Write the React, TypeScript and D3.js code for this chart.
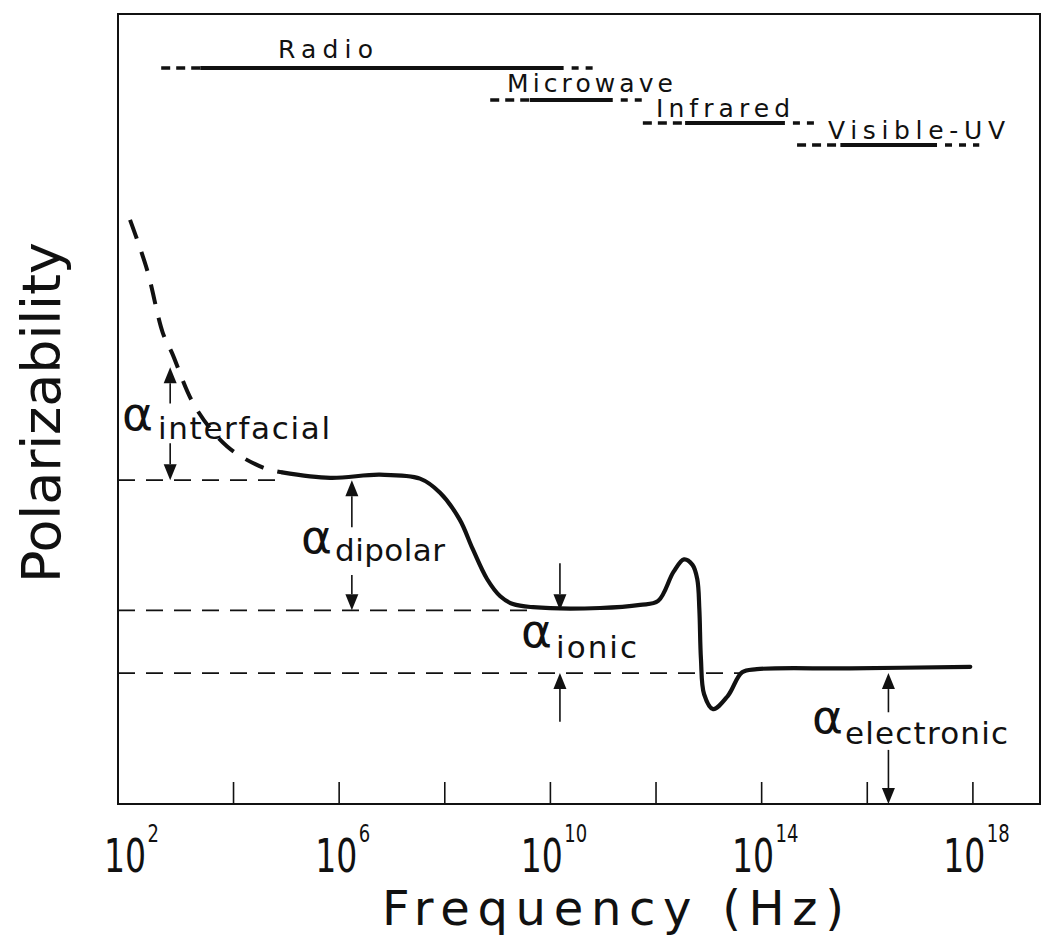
import React, { useRef, useEffect } from 'react'
import * as d3 from 'd3'

// frequency as log10(Hz), polarizability in arbitrary units
const tailExp = [2.05, 2.37, 2.67, 2.84, 3.28, 3.89, 4.57, 4.93]
const tailAlpha = [7.45, 6.82, 6.01, 5.76, 5.07, 4.56, 4.29, 4.23]

const curveExp = [4.93, 5.84, 6.78, 7.54, 7.92, 8.29, 8.54, 8.81, 9.06, 9.30, 9.68, 10.95, 11.71, 12.05, 12.34, 12.54, 12.70, 12.79, 12.83, 12.86, 12.92, 13.09, 13.37, 13.64, 13.92, 15.68, 17.96]
const curveAlpha = [4.23, 4.16, 4.20, 4.15, 3.97, 3.63, 3.25, 2.87, 2.65, 2.55, 2.51, 2.50, 2.54, 2.59, 2.96, 3.12, 3.05, 2.87, 2.48, 1.85, 1.40, 1.21, 1.38, 1.68, 1.72, 1.73, 1.75]

// reference levels (dashed horizontals)
const levelAlpha = [4.13, 2.47, 1.67]
const levelEndExp = [4.95, 9.7, 13.62]

// annotation arrows
const arrowExp = [2.81, 2.81, 6.25, 6.25, 10.19, 10.19, 16.41, 16.41]
const arrowFrom = [5.11, 4.6, 3.53, 2.92, 3.07, 1.05, 1.17, 0.69]
const arrowTo = [5.57, 4.13, 4.13, 2.47, 2.47, 1.67, 1.67, 0]

const labelNames = ['interfacial', 'dipolar', 'ionic', 'electronic']

// spectral bands
const bandNames = ['Radio', 'Microwave', 'Infrared', 'Visible-UV']
const bandStart = [2.64, 8.87, 11.76, 14.68]
const bandSolidStart = [3.38, 9.62, 12.56, 15.5]
const bandSolidEnd = [10.26, 11.19, 14.45, 17.33]
const bandEnd = [10.89, 11.84, 15.1, 18.13]

const tickExp = [4, 6, 8, 10, 12, 14, 16, 18]
const labelExp = [2, 6, 10, 14, 18]

const FONT = '"DejaVu Sans", sans-serif'

export default function App() {
    const ref = useRef<SVGSVGElement>(null)
    const width = 1051
    const height = 940

    useEffect(() => {
        const svg = d3.select(ref.current)
        svg.selectAll('*').remove()

        const left = 118, right = 1040, top = 14, bottom = 804

        const x = d3.scaleLog()
            .domain([Math.pow(10, 1.822), Math.pow(10, 19.28)])
            .range([left, right])
        const xe = (e: number) => x(Math.pow(10, e))
        const y = d3.scaleLinear().domain([0, 10]).range([bottom, 20])

        svg.append('rect').attr('width', width).attr('height', height).attr('fill', '#fff')

        // frame
        svg.append('rect')
            .attr('x', left).attr('y', top)
            .attr('width', right - left).attr('height', bottom - top)
            .attr('fill', 'none').attr('stroke', '#111').attr('stroke-width', 2)

        // ticks pointing inward
        const xAxis = d3.axisBottom(x)
            .tickValues(tickExp.map(e => Math.pow(10, e)))
            .tickSize(-22)
            .tickFormat(() => '')
        const xAxisG = svg.append('g').attr('transform', `translate(0,${bottom})`).call(xAxis)
        xAxisG.select('.domain').remove()
        xAxisG.selectAll('line').attr('stroke', '#111').attr('stroke-width', 1.6)

        // tick labels 10^n, narrowed with a horizontal scale
        labelExp.forEach(e => {
            const tx = xe(e)
            const t = svg.append('g')
                .attr('transform', `translate(${tx + 4},872) scale(0.72,1)`)
                .append('text')
                .attr('text-anchor', 'middle')
                .attr('font-family', FONT).attr('font-size', 46)
                .attr('fill', '#111')
            t.append('tspan').text('10')
            t.append('tspan').attr('dx', 2).attr('dy', -30).attr('font-size', 25).text(String(e))
        })

        // axis titles
        svg.append('text')
            .attr('x', 382).attr('y', 925)
            .attr('font-family', FONT).attr('font-size', 48)
            .attr('textLength', 462)
            .attr('fill', '#111')
            .text('Frequency (Hz)')
        svg.append('text')
            .attr('transform', 'translate(60,583) rotate(-90)')
            .attr('font-family', FONT).attr('font-size', 54)
            .attr('textLength', 341)
            .attr('fill', '#111')
            .text('Polarizability')

        // reference levels
        levelAlpha.forEach((a, i) => {
            svg.append('line')
                .attr('x1', left).attr('x2', xe(levelEndExp[i]))
                .attr('y1', y(a)).attr('y2', y(a))
                .attr('stroke', '#111').attr('stroke-width', 1.8)
                .attr('stroke-dasharray', '17 11')
        })

        const line = d3.line<[number, number]>()
            .x(d => xe(d[0]))
            .y(d => y(d[1]))
            .curve(d3.curveCatmullRom.alpha(0.5))

        svg.append('path')
            .datum(d3.zip(tailExp, tailAlpha) as [number, number][])
            .attr('d', line)
            .attr('fill', 'none').attr('stroke', '#111').attr('stroke-width', 4)
            .attr('stroke-dasharray', '20 14')

        svg.append('path')
            .datum(d3.zip(curveExp, curveAlpha) as [number, number][])
            .attr('d', line)
            .attr('fill', 'none').attr('stroke', '#111').attr('stroke-width', 4.2)
            .attr('stroke-linejoin', 'round').attr('stroke-linecap', 'round')

        // arrows
        arrowExp.forEach((e, i) => {
            const ax = xe(e)
            const y1 = y(arrowFrom[i])
            const y2 = y(arrowTo[i])
            const dir = y2 > y1 ? 1 : -1
            const head = 16
            svg.append('line')
                .attr('x1', ax).attr('x2', ax)
                .attr('y1', y1).attr('y2', y2 - dir * head)
                .attr('stroke', '#111').attr('stroke-width', 1.6)
            svg.append('path')
                .attr('d', `M${ax},${y2} L${ax - 6.5},${y2 - dir * head} L${ax + 6.5},${y2 - dir * head} Z`)
                .attr('fill', '#111')
        })

        // alpha labels: [alpha x, alpha baseline, sub x, sub baseline, sub width]
        const labelLayout = [
            [122, 430, 158, 439, 172],
            [301, 553, 335, 561, 110],
            [521, 647, 556, 658, 81],
            [812, 733, 845, 744, 163],
        ]
        labelNames.forEach((name, i) => {
            const [axp, ayp, sx, sy, sw] = labelLayout[i]
            svg.append('text')
                .attr('x', axp).attr('y', ayp)
                .attr('font-family', FONT).attr('font-size', 46)
                .attr('textLength', 31).attr('lengthAdjust', 'spacingAndGlyphs')
                .attr('fill', '#111')
                .text('α')
            svg.append('text')
                .attr('x', sx).attr('y', sy)
                .attr('font-family', FONT).attr('font-size', 31)
                .attr('textLength', sw)
                .attr('fill', '#111')
                .text(name)
        })

        // spectral bands: [line y, text x, text baseline, text width]
        const bandLayout = [
            [68, 278, 58, 95],
            [100, 507, 92, 166],
            [123, 656, 117, 134],
            [145, 828, 139, 177],
        ]
        bandNames.forEach((name, i) => {
            const [ly, tx, ty, tw] = bandLayout[i]
            svg.append('line')
                .attr('x1', xe(bandStart[i])).attr('x2', xe(bandSolidStart[i]))
                .attr('y1', ly).attr('y2', ly)
                .attr('stroke', '#111').attr('stroke-width', 3.5)
                .attr('stroke-dasharray', '9 6')
            svg.append('line')
                .attr('x1', xe(bandSolidStart[i])).attr('x2', xe(bandSolidEnd[i]))
                .attr('y1', ly).attr('y2', ly)
                .attr('stroke', '#111').attr('stroke-width', 3.8)
            svg.append('line')
                .attr('x1', xe(bandSolidEnd[i]) + 8).attr('x2', xe(bandEnd[i]))
                .attr('y1', ly).attr('y2', ly)
                .attr('stroke', '#111').attr('stroke-width', 3.5)
                .attr('stroke-dasharray', '7 7')
            svg.append('text')
                .attr('x', tx).attr('y', ty)
                .attr('font-family', FONT).attr('font-size', 25)
                .attr('textLength', tw)
                .attr('fill', '#111')
                .text(name)
        })
    }, [])

    return (
        <svg
            ref={ref}
            width={width}
            height={height}
            style={{ position: 'absolute', left: 0, top: 0, display: 'block' }}
        />
    )
}
